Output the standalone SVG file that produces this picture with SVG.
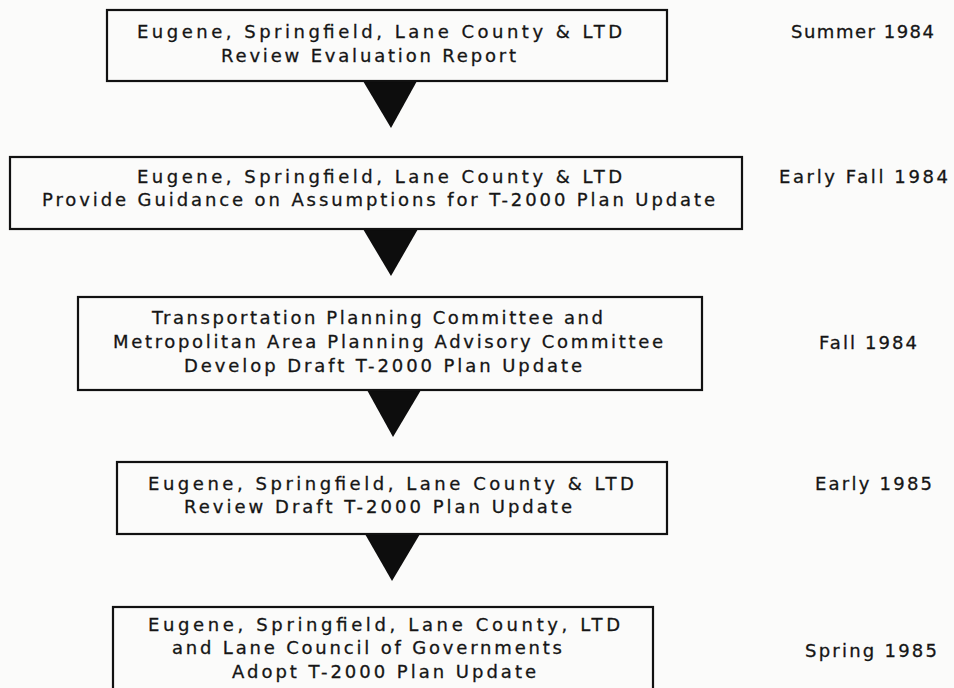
<svg xmlns="http://www.w3.org/2000/svg" width="954" height="688" viewBox="0 0 954 688">
  <style>
    .bg { fill: #fbfbfa; }
    .box { fill: none; stroke: #111; stroke-width: 2.2; }
    .arrow { fill: #0d0d0d; stroke: none; }
    text { font-family: "DejaVu Sans", "Liberation Sans", sans-serif; font-size: 18px; fill: #151515; stroke: #151515; stroke-width: 0.3; }
  </style>
  <rect class="bg" x="0" y="0" width="954" height="688"/>

  <!-- flow arrows between steps -->
  <g id="connectors">
    <polygon class="arrow" points="363,81 417,81 391,128"/>
    <polygon class="arrow" points="363,229 418,229 391,276"/>
    <polygon class="arrow" points="367,390 421,390 393,437"/>
    <polygon class="arrow" points="365,534 420,534 392,581"/>
  </g>

  <g id="step1">
    <rect class="box" x="107" y="10" width="560" height="71"/>
    <text x="137" y="38" textLength="485" lengthAdjust="spacing">Eugene, Springfield, Lane County &amp; LTD</text>
    <text x="221" y="62" textLength="295" lengthAdjust="spacing">Review Evaluation Report</text>
  </g>

  <g id="step2">
    <rect class="box" x="10" y="157" width="732" height="72"/>
    <text x="137" y="183" textLength="485" lengthAdjust="spacing">Eugene, Springfield, Lane County &amp; LTD</text>
    <text x="42" y="206" textLength="673" lengthAdjust="spacing">Provide Guidance on Assumptions for T-2000 Plan Update</text>
  </g>

  <g id="step3">
    <rect class="box" x="78" y="297" width="624" height="93"/>
    <text x="152" y="324" textLength="451" lengthAdjust="spacing">Transportation Planning Committee and</text>
    <text x="113" y="348" textLength="550" lengthAdjust="spacing">Metropolitan Area Planning Advisory Committee</text>
    <text x="184" y="372" textLength="398" lengthAdjust="spacing">Develop Draft T-2000 Plan Update</text>
  </g>

  <g id="step4">
    <rect class="box" x="117" y="462" width="550" height="72"/>
    <text x="148" y="490" textLength="486" lengthAdjust="spacing">Eugene, Springfield, Lane County &amp; LTD</text>
    <text x="184" y="513" textLength="388" lengthAdjust="spacing">Review Draft T-2000 Plan Update</text>
  </g>

  <g id="step5">
    <rect class="box" x="113" y="607" width="540" height="100"/>
    <text x="148" y="631" textLength="472" lengthAdjust="spacing">Eugene, Springfield, Lane County, LTD</text>
    <text x="172" y="654" textLength="390" lengthAdjust="spacing">and Lane Council of Governments</text>
    <text x="232" y="678" textLength="304" lengthAdjust="spacing">Adopt T-2000 Plan Update</text>
  </g>

  <!-- schedule column -->
  <g id="dates">
    <text x="791" y="38" textLength="143" lengthAdjust="spacing">Summer 1984</text>
    <text x="779" y="183" textLength="169" lengthAdjust="spacing">Early Fall 1984</text>
    <text x="819" y="349" textLength="98" lengthAdjust="spacing">Fall 1984</text>
    <text x="815" y="490" textLength="117" lengthAdjust="spacing">Early 1985</text>
    <text x="805" y="657" textLength="132" lengthAdjust="spacing">Spring 1985</text>
  </g>
</svg>
